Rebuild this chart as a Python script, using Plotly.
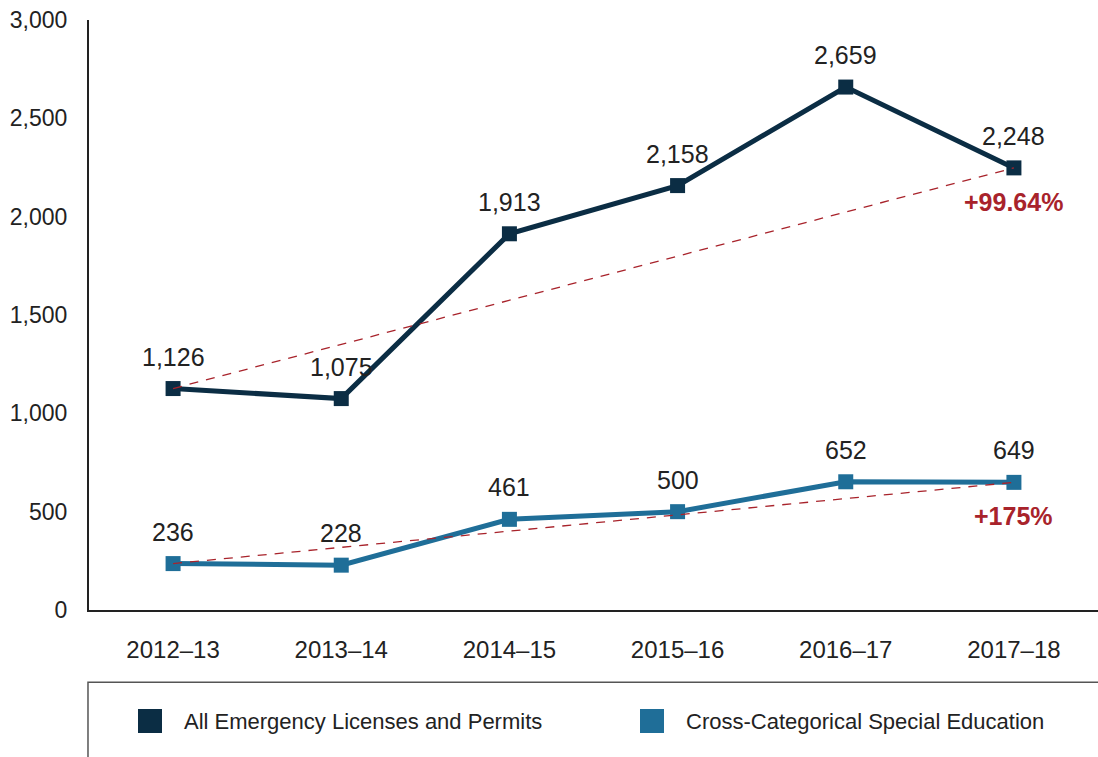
import plotly.graph_objects as go

years = ["2012–13", "2013–14", "2014–15", "2015–16", "2016–17", "2017–18"]
all_emergency = [1126, 1075, 1913, 2158, 2659, 2248]
cross_cat = [236, 228, 461, 500, 652, 649]
series_names = ["All Emergency Licenses and Permits", "Cross-Categorical Special Education"]
pct_labels = ["+99.64%", "+175%"]
y_ticks = [0, 500, 1000, 1500, 2000, 2500, 3000]

NAVY = "#0B2D44"
BLUE = "#1F6E98"
RED = "#A8232B"
FONT = "Liberation Sans, Arial, sans-serif"

fig = go.Figure()

series = [(all_emergency, NAVY), (cross_cat, BLUE)]

for vals, col in series:
    fig.add_trace(go.Scatter(
        x=years, y=vals, mode="lines+markers",
        line=dict(color=col, width=5),
        marker=dict(symbol="square", size=15, color=col),
        showlegend=False))

# trend lines (first to last point)
for vals, col in series:
    fig.add_trace(go.Scatter(
        x=[years[0], years[-1]], y=[vals[0], vals[-1]], mode="lines",
        line=dict(color=RED, width=1.3, dash="9px,8px"),
        showlegend=False, hoverinfo="skip"))

annotations = []
for vals, col in series:
    for x, v in zip(years, vals):
        annotations.append(dict(x=x, y=v, xref="x", yref="y", text=f"{v:,}",
                                showarrow=False, yshift=32,
                                font=dict(family=FONT, size=25, color="#222222")))
for (vals, col), lab in zip(series, pct_labels):
    annotations.append(dict(x=years[-1], y=vals[-1], xref="x", yref="y", text=f"<b>{lab}</b>",
                            showarrow=False, yshift=-34,
                            font=dict(family=FONT, size=25, color=RED)))

# legend (manual)
shapes = [dict(type="rect", xref="paper", yref="paper", x0=-0.001, x1=1.05, y0=-0.35, y1=-0.1225,
               line=dict(color="#555555", width=1.5), fillcolor="rgba(0,0,0,0)")]
leg_items = [(series_names[0], NAVY, 138), (series_names[1], BLUE, 640)]
pw = 1098 - 89
ph = 590
for name, col, px in leg_items:
    x0 = (px - 89) / pw
    x1 = (px + 24 - 89) / pw
    y0 = -(733 - 610) / ph
    y1 = -(709 - 610) / ph
    shapes.append(dict(type="rect", xref="paper", yref="paper", x0=x0, x1=x1, y0=y0, y1=y1,
                       line=dict(width=0), fillcolor=col))
    annotations.append(dict(xref="paper", yref="paper", x=(px + 44 - 89) / pw, y=-(721 - 610) / ph,
                            text=name, showarrow=False, xanchor="left", yanchor="middle",
                            font=dict(family=FONT, size=22, color="#222222")))

fig.update_layout(
    width=1098, height=757,
    margin=dict(l=89, r=0, t=20, b=147),
    paper_bgcolor="white", plot_bgcolor="white",
    font=dict(family=FONT, color="#222222"),
    annotations=annotations, shapes=shapes,
    xaxis=dict(type="category", categoryorder="array", categoryarray=years,
               range=[-0.5, 5.5], showgrid=False, zeroline=False,
               showline=True, linecolor="#222222", linewidth=2, ticks="",
               tickfont=dict(family=FONT, size=24, color="#222222"), ticklabelstandoff=17),
    yaxis=dict(range=[0, 3000], tickvals=y_ticks, ticktext=[f"{t:,}" for t in y_ticks],
               showgrid=False, zeroline=False, showline=True, linecolor="#222222", linewidth=2,
               ticks="", tickfont=dict(family=FONT, size=23, color="#222222"), ticklabelstandoff=15),
    showlegend=False,
)

fig.write_html("out.html")
